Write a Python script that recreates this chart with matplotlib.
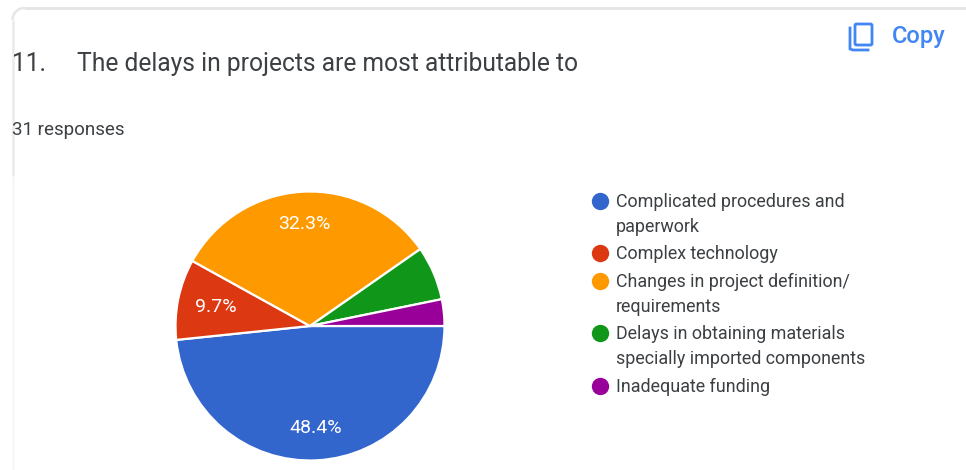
import matplotlib
matplotlib.use("Agg")
import matplotlib.pyplot as plt
from matplotlib.patches import Arc, FancyBboxPatch
from matplotlib.lines import Line2D

plt.rcParams['font.family'] = ['Roboto', 'DejaVu Sans']

W, H = 966, 470

question_no = "11."
question = "The delays in projects are most attributable to"
responses = "31 responses"
categories = ["Complicated procedures and\npaperwork", "Complex technology",
              "Changes in project definition/\nrequirements",
              "Delays in obtaining materials\nspecially imported components",
              "Inadequate funding"]
shares = [48.4, 9.7, 32.3, 6.5, 3.2]
colors = ["#3366cc", "#dc3912", "#ff9900", "#109618", "#990099"]
legend_y = [201, 253, 281, 333, 386]
text_col = "#3c4043"
blue = "#4285f4"

fig = plt.figure(figsize=(W / 100, H / 100), dpi=100)

# pixel-coordinate layer for the card, header and legend
ax = fig.add_axes([0, 0, 1, 1])
ax.set_xlim(0, W)
ax.set_ylim(H, 0)
ax.axis("off")

# card outline, only top and left show
ax.plot([24, 966], [8, 8], color="#e4e5e7", lw=2, solid_capstyle="butt")
ax.plot([12.5, 12.5], [20, 176], color="#e8eaed", lw=1.8, solid_capstyle="butt")
ax.plot([12.5, 12.5], [176, 470], color="#f1f3f4", lw=1.0, solid_capstyle="butt")
ax.add_patch(Arc((24.5, 20), 24, 24, theta1=180, theta2=270, color="#e6e7e9", lw=1.9))

ax.text(12, 64, question_no, fontsize=17.7, color=text_col, va="center", ha="left")
ax.text(77, 64, question, fontsize=17.7, color=text_col, va="center", ha="left")
ax.text(12, 130, responses, fontsize=13.5, color=text_col, va="center", ha="left")

# copy button
ax.add_patch(FancyBboxPatch((855, 24), 17, 21, boxstyle="round,pad=0,rounding_size=1.5",
                            fc="none", ec=blue, lw=2))
ax.add_line(Line2D([850, 850, 853, 868], [28, 49, 50, 50], color=blue, lw=2))
ax.text(892, 37, "Copy", fontsize=17, color=blue, va="center", ha="left", fontweight="medium")

# legend
for y, c, label in zip(legend_y, colors, categories):
    ax.plot(600, y, "o", ms=12.5, color=c, mec="none")
    ax.text(616, y - 8, label, fontsize=12.9, color=text_col, va="top", ha="left",
            linespacing=1.5)

# pie, first slice starts at 3 o'clock and runs clockwise
cx, cy, r = 310, 326, 134.5
ax_pie = fig.add_axes([(cx - r) / W, (H - cy - r) / H, 2 * r / W, 2 * r / H])
wedges, _, autotexts = ax_pie.pie(
    shares, colors=colors, startangle=0, counterclock=False, radius=1,
    wedgeprops=dict(edgecolor="white", linewidth=1.6),
    autopct="%.1f%%", pctdistance=0.76,
    textprops=dict(color="white", fontsize=14))
ax_pie.set_xlim(-1, 1)
ax_pie.set_ylim(-1, 1)
for t, s in zip(autotexts, shares):
    # the two thin slices carry no value label
    if s < 9:
        t.set_text("")
    # the narrow red slice has its label pulled in a little
    elif s < 10:
        x, y = t.get_position()
        t.set_position((x * 0.94, y * 0.94))

fig.savefig("out.png", dpi=100)
